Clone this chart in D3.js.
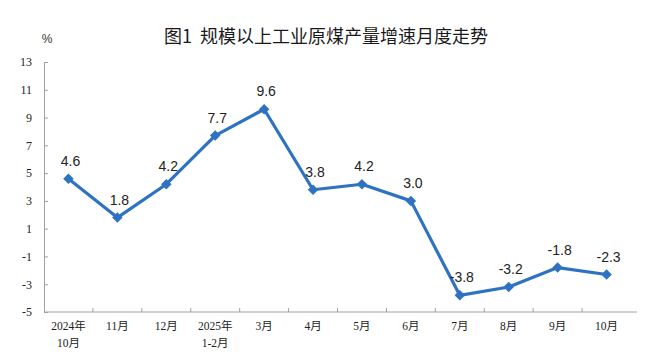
<!DOCTYPE html>
<html>
<head>
<meta charset="utf-8">
<script src="https://cdn.jsdelivr.net/npm/d3@7"></script>
<style>
  body { margin: 0; background: #fff; }
</style>
</head>
<body>
<div id="chart"></div>
<script>
// data
var months = ["2024年\n10月", "11月", "12月", "2025年\n1-2月", "3月", "4月", "5月", "6月", "7月", "8月", "9月", "10月"];
var growth = [4.6, 1.8, 4.2, 7.7, 9.6, 3.8, 4.2, 3.0, -3.8, -3.2, -1.8, -2.3];
var yTicks = [13, 11, 9, 7, 5, 3, 1, -1, -3, -5];

var width = 645,
    height = 363;

var svg = d3.select("#chart")
    .append("svg")
    .attr("width", width)
    .attr("height", height);

var x = d3.scaleBand()
    .domain(months)
    .range([44, 631]);

var y = d3.scaleLinear()
    .domain([-5, 13])
    .range([312, 62]);

// title and unit
svg.append("text")
    .attr("x", 326)
    .attr("y", 43)
    .attr("text-anchor", "middle")
    .attr("xml:space", "preserve")
    .style("white-space", "pre")
    .style("font-family", "'Noto Sans CJK SC', sans-serif")
    .style("font-size", "18px")
    .style("font-weight", "normal")
    .style("fill", "#1a1a1a")
    .text("图1  规模以上工业原煤产量增速月度走势");

svg.append("text")
    .attr("x", 47)
    .attr("y", 43)
    .attr("text-anchor", "middle")
    .style("font-family", "'Liberation Sans', sans-serif")
    .style("font-size", "12px")
    .style("fill", "#333")
    .text("%");

// y axis, ticks pointing inward
var yAxis = svg.append("g")
    .attr("transform", "translate(44,0)")
    .call(d3.axisLeft(y).tickValues(yTicks).tickSize(-4).tickPadding(12)
        .tickFormat(function(d) { return String(d); }));

// x axis
var xAxis = svg.append("g")
    .attr("transform", "translate(0,312)")
    .call(d3.axisBottom(x).tickSize(0).tickFormat(""));

xAxis.select(".domain").attr("d", "M44,0H637");

// tick marks between the categories
xAxis.selectAll(".sep")
    .data(months.slice(1))
    .enter()
    .append("line")
    .attr("x1", function(d) { return x(d); })
    .attr("x2", function(d) { return x(d); })
    .attr("y1", 0)
    .attr("y2", -4)
    .attr("stroke", "#a0a0a0");

svg.selectAll(".domain, .tick line").attr("stroke", "#a0a0a0");
yAxis.selectAll("text")
    .style("font-family", "'Liberation Serif', serif")
    .style("font-size", "12px")
    .style("fill", "#222");

// x labels, two lines where needed
svg.append("g").selectAll("text")
    .data(months)
    .enter()
    .append("text")
    .attr("text-anchor", "middle")
    .attr("transform", function(d) {
        return "translate(" + (x(d) + x.bandwidth() / 2) + ",330)";
    })
    .style("font-family", "'Liberation Serif', 'Noto Sans CJK SC', serif")
    .style("font-size", "11.5px")
    .style("fill", "#222")
    .each(function(d) {
        var lines = d.split("\n");
        var t = d3.select(this);
        lines.forEach(function(l, i) {
            t.append("tspan")
                .attr("x", 0)
                .attr("dy", i === 0 ? 0 : 17)
                .text(l);
        });
    });

var cx = function(d, i) { return x(months[i]) + x.bandwidth() / 2; };

var line = d3.line()
    .x(function(d, i) { return cx(d, i); })
    .y(function(d) { return y(d); });

svg.append("path")
    .datum(growth)
    .attr("d", line)
    .attr("fill", "none")
    .attr("stroke", "#2e72c2")
    .attr("stroke-width", 3.2)
    .attr("stroke-linejoin", "round");

// diamond markers
svg.selectAll(".pt")
    .data(growth)
    .enter()
    .append("path")
    .attr("d", d3.symbol().type(d3.symbolDiamond2).size(70))
    .attr("transform", function(d, i) {
        return "translate(" + cx(d, i) + "," + y(d) + ")";
    })
    .attr("fill", "#2e72c2");

// value labels above points
svg.selectAll(".lbl")
    .data(growth)
    .enter()
    .append("text")
    .attr("x", function(d, i) { return cx(d, i) + 2; })
    .attr("y", function(d) { return y(d) - 13; })
    .attr("text-anchor", "middle")
    .style("font-family", "'Liberation Sans', Arial, sans-serif")
    .style("font-size", "14px")
    .style("fill", "#222")
    .text(function(d) { return d.toFixed(1); });
</script>
</body>
</html>
